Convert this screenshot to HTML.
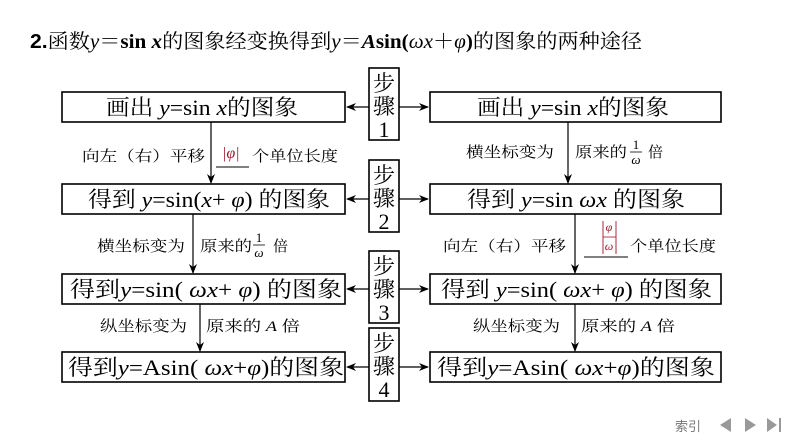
<!DOCTYPE html>
<html><head><meta charset="utf-8"><style>
html,body{margin:0;padding:0;background:#fff;}
svg{display:block;}
.t{font-family:"Liberation Serif","Noto Serif CJK SC",serif;}
.s{font-family:"Liberation Sans","Noto Sans CJK SC",sans-serif;}
</style></head><body>
<svg width="794" height="447" viewBox="0 0 794 447" xmlns="http://www.w3.org/2000/svg">
<defs>
<marker id="a" markerWidth="10" markerHeight="8" refX="9" refY="4" orient="auto" markerUnits="userSpaceOnUse">
<path d="M0,0 L10,4 L0,8 L3,4 Z" fill="#000"/></marker>
</defs>
<text x="30" y="48" font-size="20" class="t" textLength="612" lengthAdjust="spacingAndGlyphs"><tspan font-weight="bold" class="s">2.</tspan>函数<tspan font-style="italic">y</tspan>＝<tspan font-weight="bold">sin </tspan><tspan font-style="italic" font-weight="bold">x</tspan>的图象经变换得到<tspan font-style="italic">y</tspan>＝<tspan font-style="italic" font-weight="bold">A</tspan><tspan font-weight="bold">sin(</tspan><tspan font-style="italic">ωx</tspan>＋<tspan font-style="italic">φ</tspan><tspan font-weight="bold">)</tspan>的图象的两种途径</text>

<g fill="none" stroke="#000" stroke-width="1.6">
<rect x="62" y="92" width="283" height="30"/>
<rect x="62" y="184" width="283" height="30"/>
<rect x="62" y="274" width="283" height="30"/>
<rect x="62" y="352" width="283" height="30"/>
<rect x="430" y="92" width="291" height="30"/>
<rect x="430" y="184" width="291" height="30"/>
<rect x="430" y="274" width="291" height="30"/>
<rect x="430" y="352" width="291" height="30"/>
<rect x="369" y="68" width="30" height="72"/>
<rect x="369" y="160" width="30" height="72"/>
<rect x="369" y="251" width="30" height="72"/>
<rect x="369" y="328" width="30" height="73"/>
</g>
<g stroke="#000" stroke-width="1.2" marker-end="url(#a)">
<line x1="369" y1="107" x2="347" y2="107"/><line x1="399" y1="107" x2="428" y2="107"/>
<line x1="369" y1="199" x2="347" y2="199"/><line x1="399" y1="199" x2="428" y2="199"/>
<line x1="369" y1="289" x2="347" y2="289"/><line x1="399" y1="289" x2="428" y2="289"/>
<line x1="369" y1="367" x2="347" y2="367"/><line x1="399" y1="367" x2="428" y2="367"/>
<line x1="211" y1="122" x2="211" y2="183"/>
<line x1="193" y1="214" x2="193" y2="273"/>
<line x1="200" y1="304" x2="200" y2="351"/>
<line x1="568" y1="122" x2="568" y2="183"/>
<line x1="575" y1="214" x2="575" y2="273"/>
<line x1="575" y1="304" x2="575" y2="351"/>
</g>
<g class="t" font-size="22" text-anchor="middle">
<text x="384" y="91">步</text><text x="384" y="114">骤</text><text x="384" y="137">1</text>
<text x="384" y="183">步</text><text x="384" y="206">骤</text><text x="384" y="229">2</text>
<text x="384" y="274">步</text><text x="384" y="297">骤</text><text x="384" y="320">3</text>
<text x="384" y="351">步</text><text x="384" y="374">骤</text><text x="384" y="397">4</text>
</g>
<g class="t" font-size="22">
<text x="106" y="115" textLength="192" lengthAdjust="spacingAndGlyphs">画出 <tspan font-style="italic">y</tspan>=sin <tspan font-style="italic">x</tspan>的图象</text>
<text x="88" y="207" textLength="242" lengthAdjust="spacingAndGlyphs">得到 <tspan font-style="italic">y</tspan>=sin(<tspan font-style="italic">x</tspan>+ <tspan font-style="italic">φ</tspan>) 的图象</text>
<text x="70" y="297" textLength="272" lengthAdjust="spacingAndGlyphs">得到<tspan font-style="italic">y</tspan>=sin( <tspan font-style="italic">ωx</tspan>+ <tspan font-style="italic">φ</tspan>) 的图象</text>
<text x="68" y="375" textLength="276" lengthAdjust="spacingAndGlyphs">得到<tspan font-style="italic">y</tspan>=Asin( <tspan font-style="italic">ωx</tspan>+<tspan font-style="italic">φ</tspan>)的图象</text>
<text x="477" y="115" textLength="192" lengthAdjust="spacingAndGlyphs">画出 <tspan font-style="italic">y</tspan>=sin <tspan font-style="italic">x</tspan>的图象</text>
<text x="467" y="207" textLength="218" lengthAdjust="spacingAndGlyphs">得到 <tspan font-style="italic">y</tspan>=sin <tspan font-style="italic">ωx</tspan> 的图象</text>
<text x="441" y="297" textLength="271" lengthAdjust="spacingAndGlyphs">得到 <tspan font-style="italic">y</tspan>=sin( <tspan font-style="italic">ωx</tspan>+ <tspan font-style="italic">φ</tspan>) 的图象</text>
<text x="437" y="375" textLength="278" lengthAdjust="spacingAndGlyphs">得到<tspan font-style="italic">y</tspan>=Asin( <tspan font-style="italic">ωx</tspan>+<tspan font-style="italic">φ</tspan>)的图象</text>
</g>
<g class="t" font-size="15">
<text x="82" y="161" textLength="123" lengthAdjust="spacingAndGlyphs">向左（右）平移</text>
<text x="222" y="158" fill="#a0142a" font-style="italic" font-size="16">|φ|</text>
<line x1="216" y1="167" x2="249" y2="167" stroke="#000" stroke-width="1"/>
<text x="252" y="161" textLength="86" lengthAdjust="spacingAndGlyphs">个单位长度</text>

<text x="97" y="251" textLength="88" lengthAdjust="spacingAndGlyphs">横坐标变为</text>
<text x="200" y="251" textLength="52" lengthAdjust="spacingAndGlyphs">原来的</text>
<text x="259" y="242" font-size="13" text-anchor="middle">1</text>
<line x1="253" y1="245" x2="265" y2="245" stroke="#000" stroke-width="0.8"/>
<text x="259" y="257" font-size="13" text-anchor="middle" font-style="italic">ω</text>
<text x="273" y="251">倍</text>

<text x="100" y="331" textLength="87" lengthAdjust="spacingAndGlyphs">纵坐标变为</text>
<text x="206" y="331" textLength="94" lengthAdjust="spacingAndGlyphs">原来的 <tspan font-style="italic">A</tspan> 倍</text>

<text x="466" y="157" textLength="88" lengthAdjust="spacingAndGlyphs">横坐标变为</text>
<text x="575" y="157" textLength="52" lengthAdjust="spacingAndGlyphs">原来的</text>
<text x="636" y="149" font-size="13" text-anchor="middle">1</text>
<line x1="630" y1="152" x2="642" y2="152" stroke="#000" stroke-width="0.8"/>
<text x="636" y="164" font-size="13" text-anchor="middle" font-style="italic">ω</text>
<text x="648" y="157">倍</text>

<text x="443" y="251" textLength="123" lengthAdjust="spacingAndGlyphs">向左（右）平移</text>
<g fill="#a0142a" font-style="italic" font-size="12" text-anchor="middle">
<text x="609" y="231">φ</text><text x="609" y="250">ω</text></g>
<line x1="603" y1="221" x2="603" y2="254" stroke="#a0142a" stroke-width="0.9"/>
<line x1="616" y1="221" x2="616" y2="254" stroke="#a0142a" stroke-width="0.9"/>
<line x1="603" y1="237" x2="616" y2="237" stroke="#a0142a" stroke-width="0.8"/>
<line x1="584" y1="257" x2="628" y2="257" stroke="#000" stroke-width="1"/>
<text x="630" y="251" textLength="86" lengthAdjust="spacingAndGlyphs">个单位长度</text>

<text x="473" y="331" textLength="87" lengthAdjust="spacingAndGlyphs">纵坐标变为</text>
<text x="581" y="331" textLength="94" lengthAdjust="spacingAndGlyphs">原来的 <tspan font-style="italic">A</tspan> 倍</text>
</g>
<text x="675" y="431" font-size="13" fill="#777" class="s">索引</text>
<g fill="#999">
<path d="M720,425 L731,418 L731,432 Z"/>
<path d="M745,418 L756,425 L745,432 Z"/>
<path d="M767,418 L777,425 L767,432 Z"/>
<rect x="779" y="418" width="2" height="14"/>
</g>
</svg>
</body></html>
